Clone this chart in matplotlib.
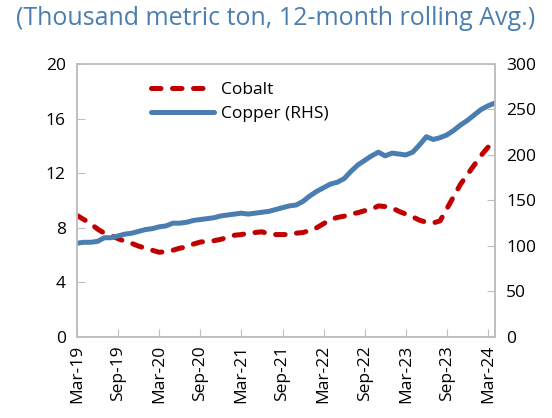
import matplotlib
matplotlib.use("Agg")
import matplotlib.pyplot as plt

plt.rcParams['font.family'] = ['Open Sans', 'DejaVu Sans']

# months Mar-19 .. Apr-24
months = ["Mar-19", "Apr-19", "May-19", "Jun-19", "Jul-19", "Aug-19", "Sep-19", "Oct-19", "Nov-19", "Dec-19",
          "Jan-20", "Feb-20", "Mar-20", "Apr-20", "May-20", "Jun-20", "Jul-20", "Aug-20", "Sep-20", "Oct-20",
          "Nov-20", "Dec-20", "Jan-21", "Feb-21", "Mar-21", "Apr-21", "May-21", "Jun-21", "Jul-21", "Aug-21",
          "Sep-21", "Oct-21", "Nov-21", "Dec-21", "Jan-22", "Feb-22", "Mar-22", "Apr-22", "May-22", "Jun-22",
          "Jul-22", "Aug-22", "Sep-22", "Oct-22", "Nov-22", "Dec-22", "Jan-23", "Feb-23", "Mar-23", "Apr-23",
          "May-23", "Jun-23", "Jul-23", "Aug-23", "Sep-23", "Oct-23", "Nov-23", "Dec-23", "Jan-24", "Feb-24",
          "Mar-24", "Apr-24"]

cobalt = [8.9, 8.6, 8.3, 7.9, 7.6, 7.4, 7.2, 7.0, 6.85, 6.65,
          6.5, 6.35, 6.2, 6.25, 6.35, 6.5, 6.6, 6.8, 6.95, 7.0,
          7.05, 7.15, 7.3, 7.45, 7.5, 7.6, 7.65, 7.7, 7.55, 7.5,
          7.5, 7.5, 7.6, 7.65, 7.8, 8.0, 8.3, 8.6, 8.75, 8.85,
          9.0, 9.1, 9.25, 9.35, 9.6, 9.55, 9.45, 9.2, 9.0, 8.8,
          8.55, 8.4, 8.35, 8.5, 9.4, 10.3, 11.2, 11.9, 12.6, 13.3,
          13.9, 14.2]

copper = [103, 104, 104, 105, 109, 109, 111, 113, 114, 116,
          118, 119, 121, 122, 125, 125, 126, 128, 129, 130,
          131, 133, 134, 135, 136, 135, 136, 137, 138, 140,
          142, 144, 145, 149, 155, 160, 164, 168, 170, 174,
          182, 189, 194, 199, 203, 199, 202, 201, 200, 203,
          211, 220, 217, 219, 222, 227, 233, 238, 244, 250,
          254, 257]

tick_labels = ["Mar-19", "Sep-19", "Mar-20", "Sep-20", "Mar-21", "Sep-21",
               "Mar-22", "Sep-22", "Mar-23", "Sep-23", "Mar-24"]

red = "#C00000"
blue = "#4A7EB0"
grey = "#BFBFBF"

fig = plt.figure(figsize=(5.52, 4.18), dpi=100)
ax = fig.add_axes([0.1395, 0.194, 0.757, 0.653])
ax2 = ax.twinx()

x = list(range(len(months)))
l1, = ax.plot(x, cobalt, color=red, lw=3.6, dashes=(1.9, 2.3), dash_capstyle="round", label="Cobalt")
l2, = ax2.plot(x, copper, color=blue, lw=3.6, solid_capstyle="round", label="Copper (RHS)")

ax.set_xlim(0, len(months) - 1)
ax.set_ylim(0, 20)
ax.set_yticks(range(0, 21, 4))
ax2.set_ylim(0, 300)
ax2.set_yticks(range(0, 301, 50))

ax.set_xticks([months.index(t) for t in tick_labels])
ax.set_xticklabels(tick_labels, rotation=90)

for a in (ax, ax2):
    for s in a.spines.values():
        s.set_color(grey)
        s.set_linewidth(1.2)
ax.tick_params(axis="x", direction="in", length=6, color=grey, labelsize=12.5, pad=6)
ax.tick_params(axis="y", direction="in", length=6, color=grey, labelsize=12.5, pad=8)
ax2.tick_params(axis="y", direction="in", length=6, color=grey, labelsize=12.5, pad=8)

ax.legend([l1, l2], ["Cobalt", "Copper (RHS)"], loc="upper left", bbox_to_anchor=(0.14, 0.99),
          frameon=False, fontsize=12.5, handlelength=3.6, handletextpad=0.4, labelspacing=0.45)

fig.text(0.5, 0.955, "(Thousand metric ton, 12-month rolling Avg.)", ha="center", va="center",
         color=blue, fontsize=18)

fig.savefig("out.png", dpi=100)
